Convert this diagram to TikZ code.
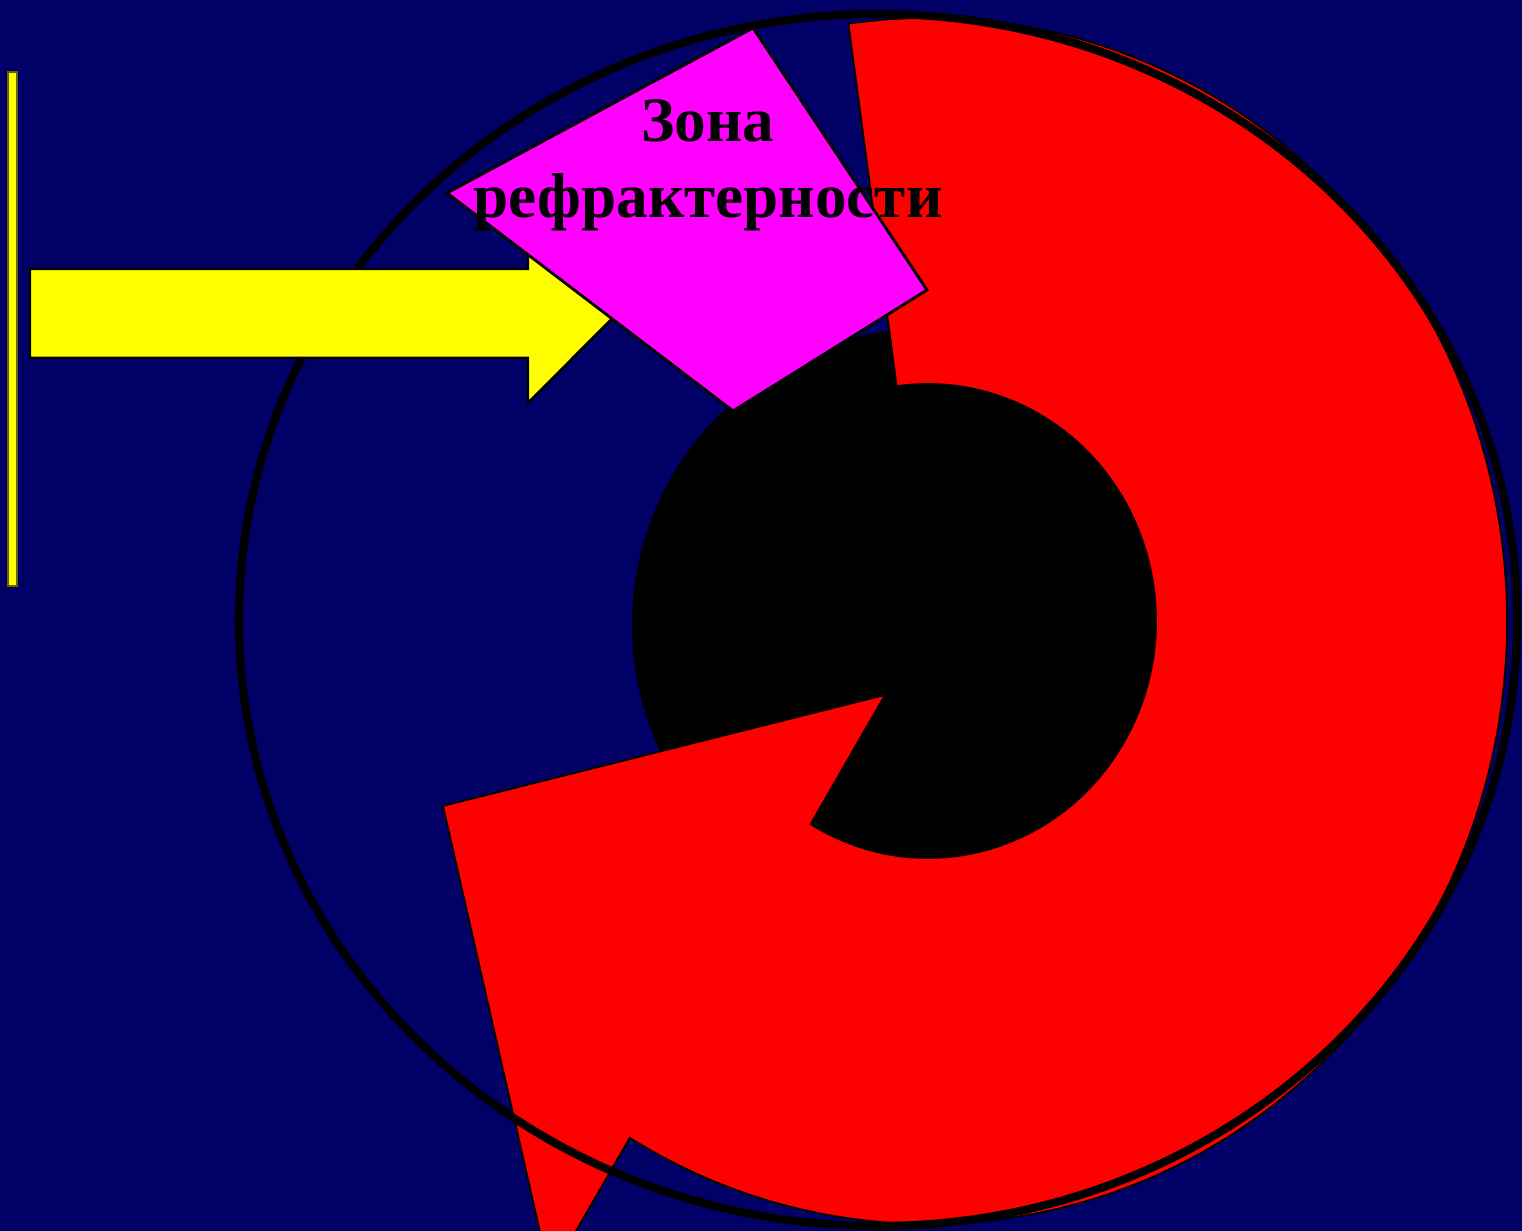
\documentclass[tikz,border=0pt]{standalone}
\usepackage{fontspec}
\setmainfont{Liberation Serif}
\usepackage{tikz}
\usepackage{xcolor}
\usetikzlibrary{calc}
\definecolor{navybg}{HTML}{000066}
\definecolor{wavered}{HTML}{FF0000}
\definecolor{zonemag}{HTML}{FF00FF}
\definecolor{stimyel}{HTML}{FFFF00}
\tikzset{
  wavering/.style={fill=wavered,draw=black,line width=0.5pt,line join=miter},
  zonebox/.style={fill=zonemag,draw=black,line width=0.8pt},
  stimarrow/.style={fill=stimyel,draw=black,line width=0.7pt},
  stimbar/.style={fill=stimyel,draw=black!60!stimyel,line width=0.5pt},
  zonetext/.style={font=\fontsize{18}{21.6}\selectfont\bfseries,text=black,
                   inner sep=0pt,anchor=base}
}

\begin{document}
\begin{tikzpicture}
      % background
      \useasboundingbox (0,0) rectangle (15.22,12.31);
      \clip (0,0) rectangle (15.22,12.31);
      \fill[navybg] (0,0) rectangle (15.22,12.31);

      % dark core
      \fill[black] (9.29,6.06) circle[radius=2.97];

      % red circular wave
      \coordinate (C) at (9.28,6.10);
      \path (C) ++(97.9:5.79 and 6.03) coordinate (tailout);
      \path (C) ++(-121:2.28 and 2.37) coordinate (notchin);
      \draw[wavering] (tailout)
        arc[start angle=97.9,end angle=-121,x radius=5.79,y radius=6.03]
        -- (5.50,-0.45) -- (4.43,4.25) -- (8.85,5.36) -- (notchin)
        arc[start angle=-121,end angle=97.9,x radius=2.28,y radius=2.37]
        -- cycle;

      % outer contour
      \draw[black,line width=2.3pt] (8.78,6.11) ellipse[x radius=6.39,y radius=6.06];

      % stimulus
      \draw[stimbar] (0.08,6.45) rectangle (0.17,11.59);
      \draw[stimarrow] (0.30,9.62) -- (5.28,9.62) -- (5.28,10.07) -- (6.17,9.175)
        -- (5.28,8.28) -- (5.28,8.73) -- (0.30,8.73) -- cycle;

      % refractory zone
      \draw[zonebox] (4.47,10.38) -- (7.53,12.03) -- (9.27,9.41) -- (7.33,8.20) -- cycle;
      \node[zonetext] (zona) at (7.08,10.89) {Зона};
      \node[zonetext] (refr) at (7.08,10.13) {рефрактерности};
    \end{tikzpicture}
\end{document}
